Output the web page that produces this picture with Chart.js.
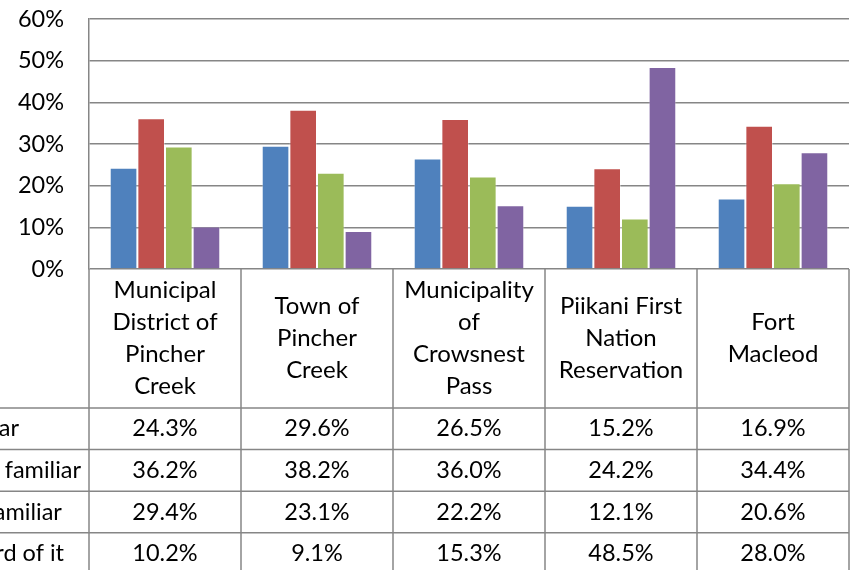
<!DOCTYPE html>
<html>
<head>
<meta charset="utf-8">
<script src="https://cdn.jsdelivr.net/npm/chart.js@4.4.0/dist/chart.umd.min.js"></script>
<style>
html, body { margin: 0; padding: 0; background: #fff; overflow: hidden; }
</style>
</head>
<body>
<canvas id="chart" width="852" height="570"></canvas>
<script>
// categories are already wrapped the way the table header shows them
const categories = [
    ["Municipal", "District of", "Pincher", "Creek"],
    ["Town of", "Pincher", "Creek"],
    ["Municipality", "of", "Crowsnest", "Pass"],
    ["Piikani First", "Nation", "Reservation"],
    ["Fort", "Macleod"]
];
const seriesNames = ["Very familiar", "Somewhat familiar", "Not very familiar", "Never heard of it"];
const veryFamiliar     = [24.3, 29.6, 26.5, 15.2, 16.9];
const somewhatFamiliar = [36.2, 38.2, 36.0, 24.2, 34.4];
const notVeryFamiliar  = [29.4, 23.1, 22.2, 12.1, 20.6];
const neverHeard       = [10.2,  9.1, 15.3, 48.5, 28.0];
const seriesColors = ["#4F81BD", "#C0504D", "#9BBB59", "#8064A2"];
const yTicks = [0, 10, 20, 30, 40, 50, 60];

const seriesValues = [veryFamiliar, somewhatFamiliar, notVeryFamiliar, neverHeard];
const FONT = "Lato";
const LINE = "#868686";

// Excel style data table under the plot
const dataTable = {
    id: "dataTable",
    afterDraw(chart) {
        const ctx = chart.ctx;
        const area = chart.chartArea;
        const x = chart.scales.x;
        const headerH = 139;
        const rowH = 41.6;
        const step = (area.right - area.left) / categories.length;
        const top = area.bottom;
        const headBottom = top + headerH;

        ctx.save();
        ctx.strokeStyle = LINE;
        ctx.lineWidth = 1.5;
        ctx.beginPath();
        for (let i = 0; i < categories.length; i++) {
            const left = x.getPixelForValue(i) - step / 2;
            ctx.moveTo(left, top);
            ctx.lineTo(left, chart.height);
        }
        ctx.moveTo(area.right, top);
        ctx.lineTo(area.right, chart.height);
        for (let r = 0; r < seriesNames.length; r++) {
            const yy = headBottom + r * rowH;
            ctx.moveTo(0, yy);
            ctx.lineTo(area.right, yy);
        }
        ctx.stroke();

        ctx.fillStyle = "#000";
        ctx.textBaseline = "middle";
        ctx.textAlign = "center";

        // header cells
        ctx.font = "24px " + FONT;
        const lineH = 32;
        categories.forEach((lines, i) => {
            const cx = x.getPixelForValue(i);
            const y0 = (top + headBottom) / 2 - (lines.length - 1) * lineH / 2;
            lines.forEach((t, k) => ctx.fillText(t, cx, y0 + k * lineH));
        });

        // values
        ctx.font = "23.5px " + FONT;
        seriesValues.forEach((vals, r) => {
            const cy = headBottom + r * rowH + rowH / 2;
            vals.forEach((v, i) => {
                ctx.fillText(v.toFixed(1) + "%", x.getPixelForValue(i), cy);
            });
        });

        // series names, left aligned, column sized for the longest one
        ctx.textAlign = "left";
        const widest = Math.max(...seriesNames.map(n => ctx.measureText(n).width));
        const x0 = area.left - 8 - widest;
        seriesNames.forEach((n, r) => {
            ctx.fillText(n, x0, headBottom + r * rowH + rowH / 2);
        });
        ctx.restore();
    }
};

new Chart(document.getElementById("chart"), {
    type: "bar",
    data: {
        labels: categories,
        datasets: seriesNames.map((name, i) => ({
            label: name,
            data: seriesValues[i],
            backgroundColor: seriesColors[i],
            borderColor: "rgba(255,255,255,0.35)",
            borderWidth: 1,
            // Excel gap width 150%
            categoryPercentage: 4 / 5.5,
            barPercentage: 1
        }))
    },
    options: {
        responsive: false,
        animation: false,
        layout: { padding: { left: 0, right: 3, top: 19, bottom: 301 } },
        plugins: {
            legend: { display: false },
            tooltip: { enabled: false }
        },
        scales: {
            x: { display: false },
            y: {
                min: 0,
                max: 60,
                afterBuildTicks(scale) {
                    scale.ticks = yTicks.map(v => ({ value: v }));
                },
                afterFit(scale) {
                    scale.width = 89;
                    scale.paddingTop = 0;
                    scale.paddingBottom = 0;
                },
                grid: { color: LINE, lineWidth: 1.5, drawTicks: false },
                border: { display: true, color: LINE, width: 1.5 },
                ticks: {
                    padding: 25,
                    color: "#000",
                    font: { family: FONT, size: 23.5 },
                    callback: v => v + "%"
                }
            }
        }
    },
    plugins: [dataTable]
});
</script>
</body>
</html>
